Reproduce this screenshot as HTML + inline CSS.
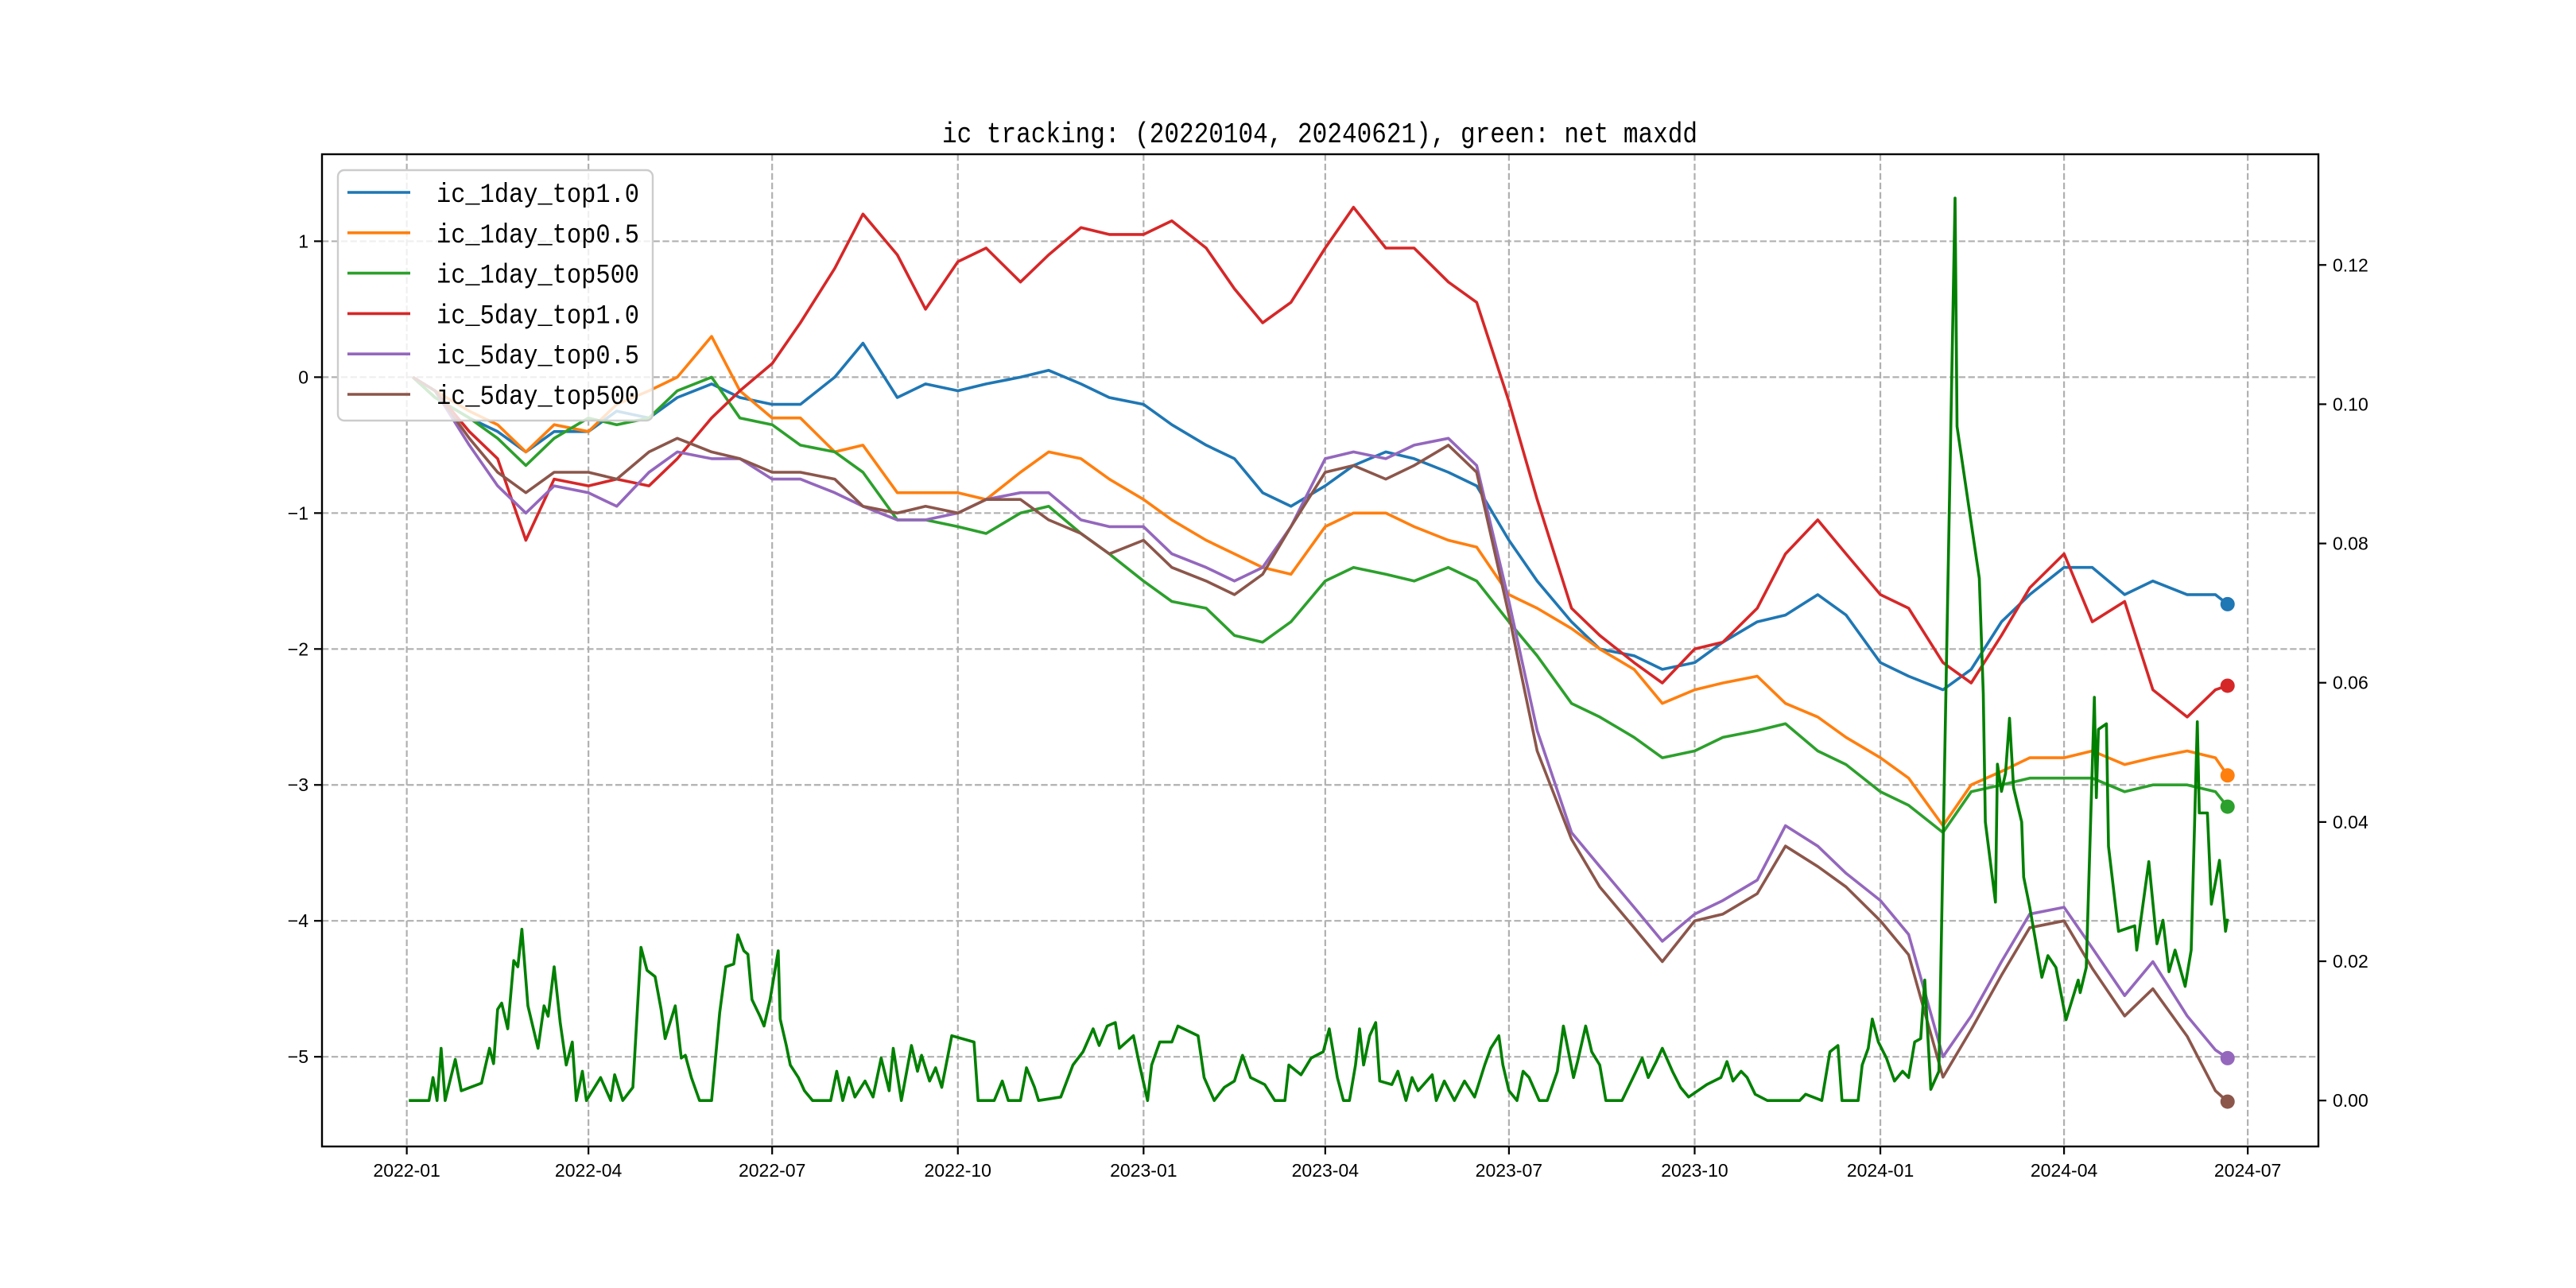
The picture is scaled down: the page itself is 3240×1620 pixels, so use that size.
<!DOCTYPE html>
<html><head><meta charset="utf-8"><title>ic tracking</title>
<style>html,body{margin:0;padding:0;background:#fff;}svg{display:block;}</style></head>
<body>
<svg id="chart" width="3240" height="1620" viewBox="0 0 3240 1620" xmlns="http://www.w3.org/2000/svg">
<rect x="0" y="0" width="3240" height="1620" fill="#ffffff"/>
<g id="grid"></g>
<g id="series"></g>
<g id="axes"></g>
<g id="legend"></g>
<text x="1660" y="179" text-anchor="middle" font-family="'Liberation Mono', 'Noto Sans CJK SC', monospace" font-size="36" textLength="950" lengthAdjust="spacingAndGlyphs" fill="#000">ic tracking: (20220104, 20240621), green: net maxdd</text>
</svg>
<script>
// ---- data ----
const sampleDates = ["2022-01-04","2022-01-15","2022-02-01","2022-02-15","2022-03-01","2022-03-15","2022-04-01","2022-04-15","2022-05-01","2022-05-15","2022-06-01","2022-06-15","2022-07-01","2022-07-15","2022-08-01","2022-08-15","2022-09-01","2022-09-15","2022-10-01","2022-10-15","2022-11-01","2022-11-15","2022-12-01","2022-12-15","2023-01-01","2023-01-15","2023-02-01","2023-02-15","2023-03-01","2023-03-15","2023-04-01","2023-04-15","2023-05-01","2023-05-15","2023-06-01","2023-06-15","2023-07-01","2023-07-15","2023-08-01","2023-08-15","2023-09-01","2023-09-15","2023-10-01","2023-10-15","2023-11-01","2023-11-15","2023-12-01","2023-12-15","2024-01-01","2024-01-15","2024-02-01","2024-02-15","2024-03-01","2024-03-15","2024-04-01","2024-04-15","2024-05-01","2024-05-15","2024-06-01","2024-06-15","2024-06-21"];
const ic1dTop10 = [0,-0.15,-0.3,-0.4,-0.55,-0.4,-0.4,-0.25,-0.3,-0.15,-0.05,-0.15,-0.2,-0.2,0.0,0.25,-0.15,-0.05,-0.1,-0.05,0.0,0.05,-0.05,-0.15,-0.2,-0.35,-0.5,-0.6,-0.85,-0.95,-0.8,-0.65,-0.55,-0.6,-0.7,-0.8,-1.2,-1.5,-1.8,-2.0,-2.05,-2.15,-2.1,-1.95,-1.8,-1.75,-1.6,-1.75,-2.1,-2.2,-2.3,-2.15,-1.8,-1.6,-1.4,-1.4,-1.6,-1.5,-1.6,-1.6,-1.67];
const ic1dTop05 = [0,-0.1,-0.25,-0.35,-0.55,-0.35,-0.4,-0.2,-0.1,0.0,0.3,-0.1,-0.3,-0.3,-0.55,-0.5,-0.85,-0.85,-0.85,-0.9,-0.7,-0.55,-0.6,-0.75,-0.9,-1.05,-1.2,-1.3,-1.4,-1.45,-1.1,-1.0,-1.0,-1.1,-1.2,-1.25,-1.6,-1.7,-1.85,-2.0,-2.15,-2.4,-2.3,-2.25,-2.2,-2.4,-2.5,-2.65,-2.8,-2.95,-3.3,-3.0,-2.9,-2.8,-2.8,-2.75,-2.85,-2.8,-2.75,-2.8,-2.93];
const ic1dTop500 = [0,-0.15,-0.3,-0.45,-0.65,-0.45,-0.3,-0.35,-0.3,-0.1,0.0,-0.3,-0.35,-0.5,-0.55,-0.7,-1.05,-1.05,-1.1,-1.15,-1.0,-0.95,-1.15,-1.3,-1.5,-1.65,-1.7,-1.9,-1.95,-1.8,-1.5,-1.4,-1.45,-1.5,-1.4,-1.5,-1.8,-2.05,-2.4,-2.5,-2.65,-2.8,-2.75,-2.65,-2.6,-2.55,-2.75,-2.85,-3.05,-3.15,-3.35,-3.05,-3.0,-2.95,-2.95,-2.95,-3.05,-3.0,-3.0,-3.05,-3.16];
const ic5dTop10 = [0,-0.1,-0.4,-0.6,-1.2,-0.75,-0.8,-0.75,-0.8,-0.6,-0.3,-0.1,0.1,0.4,0.8,1.2,0.9,0.5,0.85,0.95,0.7,0.9,1.1,1.05,1.05,1.15,0.95,0.65,0.4,0.55,0.95,1.25,0.95,0.95,0.7,0.55,-0.18,-0.9,-1.7,-1.9,-2.1,-2.25,-2.0,-1.95,-1.7,-1.3,-1.05,-1.3,-1.6,-1.7,-2.1,-2.25,-1.9,-1.55,-1.3,-1.8,-1.65,-2.3,-2.5,-2.3,-2.27];
const ic5dTop05 = [0,-0.1,-0.5,-0.8,-1.0,-0.8,-0.85,-0.95,-0.7,-0.55,-0.6,-0.6,-0.75,-0.75,-0.85,-0.95,-1.05,-1.05,-1.0,-0.9,-0.85,-0.85,-1.05,-1.1,-1.1,-1.3,-1.4,-1.5,-1.4,-1.1,-0.6,-0.55,-0.6,-0.5,-0.45,-0.65,-1.65,-2.6,-3.35,-3.6,-3.9,-4.15,-3.95,-3.85,-3.7,-3.3,-3.45,-3.65,-3.85,-4.1,-5.0,-4.7,-4.3,-3.95,-3.9,-4.2,-4.55,-4.3,-4.7,-4.95,-5.01];
const ic5dTop500 = [0,-0.1,-0.45,-0.7,-0.85,-0.7,-0.7,-0.75,-0.55,-0.45,-0.55,-0.6,-0.7,-0.7,-0.75,-0.95,-1.0,-0.95,-1.0,-0.9,-0.9,-1.05,-1.15,-1.3,-1.2,-1.4,-1.5,-1.6,-1.45,-1.1,-0.7,-0.65,-0.75,-0.65,-0.5,-0.7,-1.75,-2.75,-3.4,-3.75,-4.05,-4.3,-4.0,-3.95,-3.8,-3.45,-3.6,-3.75,-4.0,-4.25,-5.15,-4.8,-4.4,-4.05,-4.0,-4.35,-4.7,-4.5,-4.85,-5.25,-5.33];
// net max drawdown (right axis); days since 2022-01-01
const ddDays = [1,11,13,15,17,19,24,27,37,41,43,45,47,50,53,55,57,60,65,68,70,73,76,79,82,84,87,89,96,101,103,107,112,116,119,123,126,128,133,136,138,141,145,151,155,158,162,164,167,169,171,175,177,180,184,185,188,190,194,197,201,210,213,216,219,222,227,231,235,239,241,245,250,253,255,259,262,265,270,281,283,291,295,298,304,307,311,313,324,330,335,340,343,347,351,353,360,363,367,369,373,379,382,392,395,400,405,410,414,418,425,430,435,437,443,448,454,457,461,464,467,470,472,474,477,480,482,488,491,495,498,501,508,510,514,519,524,529,534,537,541,543,546,550,553,556,561,565,570,573,578,580,584,587,591,594,602,609,612,615,619,622,627,631,635,644,651,654,657,661,664,668,674,690,693,701,705,709,711,719,721,724,726,729,733,737,741,744,747,750,752,755,759,767,768,779,781,782,787,788,790,792,794,796,800,801,804,810,813,817,822,828,829,832,836,837,838,842,843,848,856,857,863,867,870,873,876,881,884,887,888,892,894,898,901,902];
const ddValues = [0,0,0.0033,0,0.0075,0,0.0059,0.0014,0.0025,0.0075,0.0053,0.0131,0.014,0.0103,0.0201,0.0192,0.0246,0.0136,0.0075,0.0136,0.0121,0.0192,0.0112,0.0051,0.0084,0,0.0042,0,0.0033,0,0.0037,0,0.0019,0.022,0.0187,0.0178,0.0131,0.0089,0.0136,0.0061,0.0065,0.0033,0,0,0.0126,0.0192,0.0196,0.0238,0.0215,0.021,0.0145,0.0121,0.0107,0.0145,0.0215,0.0117,0.0079,0.0051,0.0033,0.0014,0,0,0.0042,0,0.0033,0.0005,0.0028,0.0005,0.0061,0.0014,0.0075,0,0.0079,0.0042,0.0065,0.0028,0.0047,0.0019,0.0093,0.0084,0,0,0.0028,0,0,0.0047,0.0019,0,0.0005,0.0051,0.007,0.0103,0.0079,0.0107,0.0112,0.0075,0.0093,0.0051,0,0.0051,0.0084,0.0084,0.0107,0.0093,0.0033,0,0.0019,0.0028,0.0065,0.0033,0.0023,0,0,0.0051,0.0037,0.0061,0.007,0.0103,0.0033,0,0,0.0051,0.0103,0.0051,0.0093,0.0112,0.0028,0.0023,0.0042,0,0.0033,0.0014,0.0037,0,0.0028,0,0.0028,0.0005,0.0051,0.0075,0.0093,0.0051,0.0014,0,0.0042,0.0033,0,0,0.0042,0.0107,0.0033,0.0056,0.0107,0.007,0.0051,0,0,0.0042,0.0061,0.0033,0.0056,0.0075,0.0042,0.0019,0.0005,0.0023,0.0033,0.0056,0.0028,0.0042,0.0033,0.0009,0,0,0.0009,0,0.007,0.0079,0,0,0.0051,0.0075,0.0117,0.0084,0.0061,0.0028,0.0042,0.0033,0.0084,0.0089,0.0173,0.0016,0.0042,0.1296,0.0968,0.075,0.0584,0.04,0.0285,0.0483,0.0444,0.047,0.0549,0.0449,0.04,0.0321,0.0278,0.0177,0.0208,0.0191,0.0116,0.0173,0.0155,0.0191,0.0579,0.0435,0.0533,0.0541,0.0365,0.0243,0.0251,0.0216,0.0343,0.0225,0.0259,0.0185,0.0216,0.0164,0.0216,0.0544,0.0413,0.0413,0.0282,0.0345,0.0243,0.0261];
const seriesNames = ["ic_1day_top1.0","ic_1day_top0.5","ic_1day_top500","ic_5day_top1.0","ic_5day_top0.5","ic_5day_top500"];
const leftTicks = [-5,-4,-3,-2,-1,0,1];
const rightTicks = [0,0.02,0.04,0.06,0.08,0.10,0.12];
const rightTickLabels = ["0.00","0.02","0.04","0.06","0.08","0.10","0.12"];
const xTickLabels = ["2022-01","2022-04","2022-07","2022-10","2023-01","2023-04","2023-07","2023-10","2024-01","2024-04","2024-07"];

// ---- layout ----
const NS = "http://www.w3.org/2000/svg";
const L = 405, R = 2916, T = 194, B = 1442;
const XMIN = -42, XMAX = 947;
const YMIN = -5.66, YMAX = 1.64;
const RMIN = -0.0066, RMAX = 0.1359;
const colors = ["#1f77b4","#ff7f0e","#2ca02c","#d62728","#9467bd","#8c564b"];
const seriesData = [ic1dTop10, ic1dTop05, ic1dTop500, ic5dTop10, ic5dTop05, ic5dTop500];
const base = Date.UTC(2022,0,1);
function dayOf(s){const p=s.split('-');return (Date.UTC(+p[0],+p[1]-1,+p[2])-base)/86400000;}
function xScale(d){return L + (d - XMIN)/(XMAX - XMIN)*(R - L);}
function yScale(v){return B - (v - YMIN)/(YMAX - YMIN)*(B - T);}
function yRight(v){return B - (v - RMIN)/(RMAX - RMIN)*(B - T);}
function mk(tag, attrs, parent){const e=document.createElementNS(NS,tag);for(const k in attrs)e.setAttribute(k,attrs[k]);parent.appendChild(e);return e;}

const grid = document.getElementById('grid');
const axes = document.getElementById('axes');
const series = document.getElementById('series');
const legend = document.getElementById('legend');
const FONT = "'Liberation Sans', 'Noto Sans CJK SC', sans-serif";

// x grid + ticks
xTickLabels.forEach(function(lbl){
  const x = xScale(dayOf(lbl + "-01"));
  const g = mk('line',{x1:x,x2:x,y1:T,y2:B,stroke:'#b0b0b0','stroke-width':2.2,'stroke-dasharray':'8.3 3.6'},grid);
  
  
  const t = mk('line',{x1:x,x2:x,y1:B,y2:B+10,stroke:'#000','stroke-width':2.2},axes);
  
  
  const tx = mk('text',{x:x,y:B+38,'text-anchor':'middle','font-family':FONT,'font-size':23,fill:'#000'},axes);
  tx.textContent = lbl;
  
  
});
// left y grid + ticks
leftTicks.forEach(function(v){
  const y = yScale(v);
  const g = mk('line',{x1:L,x2:R,y1:y,y2:y,stroke:'#b0b0b0','stroke-width':2.2,'stroke-dasharray':'8.3 3.6'},grid);
  
  
  const t = mk('line',{x1:L-10,x2:L,y1:y,y2:y,stroke:'#000','stroke-width':2.2},axes);
  
  
  const tx = mk('text',{x:L-17,y:y+8,'text-anchor':'end','font-family':FONT,'font-size':23,fill:'#000'},axes);
  tx.textContent = v < 0 ? '\u2212' + Math.abs(v) : String(v);
  
  
});
// right y ticks
rightTicks.forEach(function(v,i){
  const y = yRight(v);
  const t = mk('line',{x1:R,x2:R+10,y1:y,y2:y,stroke:'#000','stroke-width':2.2},axes);
  
  
  const tx = mk('text',{x:R+18,y:y+8,'text-anchor':'start','font-family':FONT,'font-size':23,fill:'#000'},axes);
  tx.textContent = rightTickLabels[i];
  
  
});
// spines
const frame = mk('rect',{x:L,y:T,width:R-L,height:B-T,fill:'none',stroke:'#000','stroke-width':2.4},axes);



// main series
const xs = sampleDates.map(dayOf);
seriesData.forEach(function(vals,si){
  const pts = vals.map(function(v,i){return xScale(xs[i]).toFixed(1)+','+yScale(v).toFixed(1);}).join(' ');
  const pl = mk('polyline',{points:pts,fill:'none',stroke:colors[si],'stroke-width':3.6,'stroke-linejoin':'round'},series);
  
  
  const last = vals.length-1;
  const c = mk('circle',{cx:xScale(xs[last]),cy:yScale(vals[last]),r:9,fill:colors[si]},series);
  
  
});
// maxdd line (right axis)
const ddPts = ddDays.map(function(d,i){return xScale(d).toFixed(1)+','+yRight(ddValues[i]).toFixed(1);}).join(' ');
const dd = mk('polyline',{points:ddPts,fill:'none',stroke:'#008000','stroke-width':3.6,'stroke-linejoin':'round'},series);



// legend
const box = mk('rect',{x:425,y:214,width:396,height:315,rx:8,fill:'#ffffff','fill-opacity':0.8,stroke:'#cccccc','stroke-width':2.4},legend);


seriesNames.forEach(function(n,i){
  const y = 242 + i*50.8;
  const ln = mk('line',{x1:437,x2:516,y1:y,y2:y,stroke:colors[i],'stroke-width':3.6},legend);
  
  
  const tx = mk('text',{x:549,y:y+12,'font-family':"'Liberation Mono', monospace",'font-size':34,textLength:255,lengthAdjust:'spacingAndGlyphs',fill:'#000'},legend);
  tx.textContent = n;
  
  
});
</script>
</body></html>
